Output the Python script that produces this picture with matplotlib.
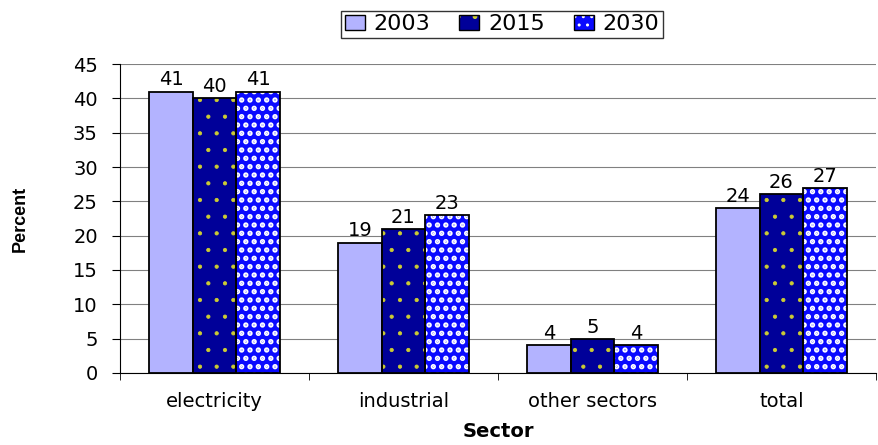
import matplotlib
matplotlib.use("Agg")
import matplotlib.pyplot as plt
import numpy as np

plt.rcParams["font.family"] = ["DejaVu Sans"]

sectors = ["electricity", "industrial", "other sectors", "total"]
years = ["2003", "2015", "2030"]
v2003 = [41, 19, 4, 24]
v2015 = [40, 21, 5, 26]
v2030 = [41, 23, 4, 27]

fig = plt.figure(figsize=(8.79, 4.45), dpi=100)
ax = fig.add_axes([0.1365, 0.162, 0.86, 0.694])

x = np.arange(len(sectors))
w = 0.23
series = [v2003, v2015, v2030]
styles = [
    dict(color="#B3B3FF", hatch=None, hc=None, hlw=1.0),
    dict(color="#000099", hatch=".", hc="#CCCC33", hlw=0.6),
    dict(color="#0A0AFF", hatch="..", hc="white", hlw=2.6),
]
handles = []
for i, (vals, st) in enumerate(zip(series, styles)):
    pos = x + (i - 1) * w
    with plt.rc_context({"hatch.linewidth": st["hlw"], "hatch.color": st["hc"] or "black"}):
        if st["hatch"]:
            ax.bar(pos, vals, w, color=st["color"], edgecolor=st["hc"],
                   hatch=st["hatch"], linewidth=0, zorder=2)
        h = plt.Rectangle((0, 0), 1, 1, facecolor=st["color"], edgecolor=st["hc"] or "black",
                          hatch=st["hatch"], linewidth=0)
    ax.bar(pos, vals, w, facecolor="none" if st["hatch"] else st["color"],
           edgecolor="black", linewidth=1.3, zorder=3)
    for p, v in zip(pos, vals):
        ax.text(p, v + 0.3, str(v), ha="center", va="bottom", fontsize=14)
    border = plt.Rectangle((0, 0), 1, 1, facecolor="none", edgecolor="black", linewidth=1)
    handles.append((h, border))

ax.set_xlim(-0.5, 3.5)
ax.set_ylim(0, 45)
ax.set_yticks(range(0, 46, 5))
ax.yaxis.grid(True, color="#808080", linewidth=0.8, zorder=0)
ax.set_axisbelow(True)
ax.set_xticks(x)
ax.set_xticklabels(sectors, fontsize=14)
ax.tick_params(axis="x", length=0, pad=14)
ax.set_xticks(np.arange(-0.5, 3.6, 1), minor=True)
ax.tick_params(axis="x", which="minor", length=5, direction="out")
ax.tick_params(axis="y", labelsize=14, length=6, direction="out", pad=10)
for s in ["top", "right"]:
    ax.spines[s].set_visible(False)

ax.set_xlabel("Sector", fontsize=14, fontweight="bold", labelpad=8)
ax.set_ylabel("Percent", fontsize=13, fontweight="bold", labelpad=32,
              family="Liberation Sans")

leg = fig.legend(handles, years, loc="upper center", bbox_to_anchor=(0.571, 1.0),
                 ncol=3, fontsize=16, frameon=True, fancybox=False,
                 edgecolor="black", handlelength=0.9, handleheight=0.7,
                 handletextpad=0.4, columnspacing=1.3, borderpad=0.15)
leg.get_frame().set_linewidth(1.0)

fig.savefig("out.png", dpi=100)
